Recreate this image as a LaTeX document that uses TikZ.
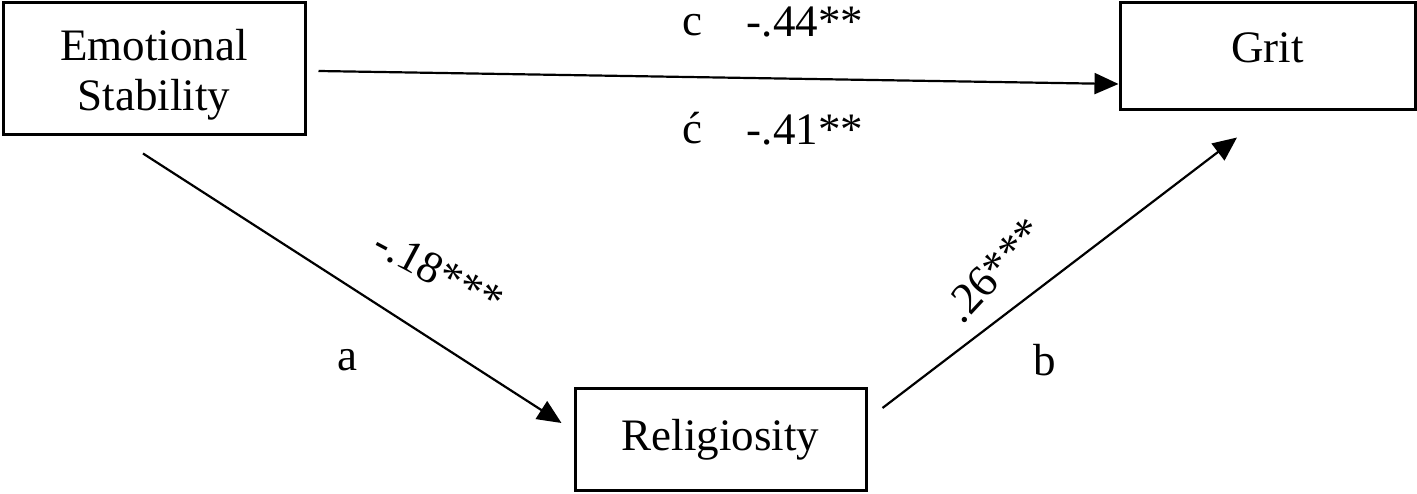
\documentclass[tikz,border=0pt]{standalone}
\usepackage{fontspec}
\setmainfont{Liberation Serif}
\usetikzlibrary{arrows.meta,calc}
\begin{document}
\begin{tikzpicture}[x=1pt,y=-1pt,
  box/.style={draw,line width=3pt,inner sep=0pt,align=center,font=\fontsize{45}{50}\selectfont},
  conn/.style={line width=2.2pt,-{Triangle[length=24pt,width=21pt]}},
  lbl/.style={inner sep=0pt,font=\fontsize{45}{48}\selectfont}]
\useasboundingbox (0,0) rectangle (1417,494);
\node[box,minimum width=302pt,minimum height=132pt] (es) at (154,69) {\raisebox{-7pt}[\height][\depth]{\begin{tabular}{@{}c@{}}Emotional\\Stability\end{tabular}}};
\node[box,minimum width=295pt,minimum height=107pt,text height=31pt,text depth=18pt] (grit) at (1267.5,56.5) {Grit};
\node[box,minimum width=291pt,minimum height=101pt] (rel) at (720.5,439.5) {Religiosity};
\coordinate (c1) at ($(es.east)+(12,2)$);
\coordinate (c2) at ($(grit.west)+(0,27.5)$);
\coordinate (a1) at ($(es.south)+(-11,17)$);
\coordinate (a2) at ($(rel.west)+(-12,-16.5)$);
\coordinate (b1) at ($(rel.east)+(15,-31.5)$);
\coordinate (b2) at ($(grit.south)+(-30.5,26)$);
\draw[conn] (c1) -- (c2);
\draw[conn] (a1) -- (a2);
\draw[conn] (b1) -- (b2);
\node[lbl] (lc) at (692,25) {c};
\node[lbl] (lcv) at (805,22) {-.44**};
\node[lbl] (lcp) at (692,128) {ć};
\node[lbl] (lcpv) at (805,130) {-.41**};
\node[lbl] (la) at (347,360) {a};
\node[lbl] (lb) at (1045,360) {b};
\node[lbl,rotate=-28] (lav) at (439,272) {-.18***};
\node[lbl,rotate=47] (lbv) at (994,270) {.26***};
\end{tikzpicture}
\end{document}
